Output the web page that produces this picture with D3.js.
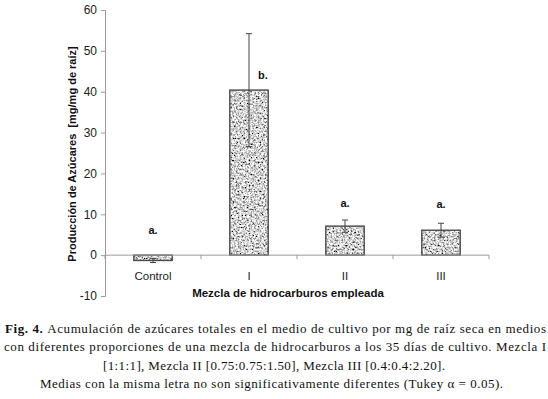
<!DOCTYPE html>
<html>
<head>
<meta charset="utf-8">
<script src="https://cdn.jsdelivr.net/npm/d3@7"></script>
<style>
  body { margin: 0; background: #fff; }
  svg { display: block; }
</style>
</head>
<body>
<div id="chart"></div>
<script>
const width = 548,
    height = 399,
    margin = { top: 10, left: 105, right: 59, bottom: 103 };

// data
const categories = ["Control", "I", "II", "III"];
const means = [-1.3, 40.4, 7.1, 6.1];
const errors = [0.5, 13.8, 1.5, 1.7];
const letters = ["a.", "b.", "a.", "a."];
const letterAt = [5.2, 43.2, 11.7, 11.5];
const yTicks = [-10, 0, 10, 20, 30, 40, 50, 60];

const captionLines = [
    "Acumulación de azúcares totales en el medio de cultivo por mg de raíz seca en medios",
    "con diferentes proporciones de una mezcla de hidrocarburos a los 35 días de cultivo. Mezcla I",
    "[1:1:1], Mezcla II [0.75:0.75:1.50], Mezcla III [0.4:0.4:2.20].",
    "Medias con la misma letra no son significativamente diferentes (Tukey α = 0.05)."
];

const svg = d3.select("#chart")
    .append("svg")
    .attr("width", width)
    .attr("height", height);

// speckled grey texture for the bars
const defs = svg.append("defs");
const filt = defs.append("filter")
    .attr("id", "speckle")
    .attr("x", 0).attr("y", 0).attr("width", 1).attr("height", 1);
filt.append("feTurbulence")
    .attr("type", "fractalNoise")
    .attr("baseFrequency", 0.55)
    .attr("numOctaves", 2)
    .attr("seed", 7)
    .attr("result", "noise");
filt.append("feColorMatrix")
    .attr("in", "noise")
    .attr("type", "matrix")
    .attr("values", "2.4 0 0 0 -0.55  2.4 0 0 0 -0.55  2.4 0 0 0 -0.55  0 0 0 0 1")
    .attr("result", "grey");
filt.append("feComposite")
    .attr("in", "grey")
    .attr("in2", "SourceGraphic")
    .attr("operator", "in");

const x = d3.scaleBand()
    .domain(categories)
    .range([margin.left, width - margin.right])
    .paddingInner(0.6)
    .paddingOuter(0.3);

const y = d3.scaleLinear()
    .domain([-10, 60])
    .range([296, margin.top]);

// y axis
const yAxis = d3.axisLeft(y).tickValues(yTicks).tickSize(4).tickPadding(4)
    .tickFormat(d => String(d));
const yG = svg.append("g")
    .attr("transform", `translate(${margin.left},0)`)
    .call(yAxis);
yG.select(".domain").attr("stroke", "#9a9a9a");
yG.selectAll(".tick line").attr("stroke", "#9a9a9a");
yG.selectAll(".tick text")
    .attr("font-family", "Liberation Sans, Arial, sans-serif")
    .attr("font-size", 12)
    .attr("fill", "#222");

// bars
svg.append("g").selectAll("rect.fillbar")
    .data(categories)
    .join("rect")
    .attr("class", "fillbar")
    .attr("x", d => x(d))
    .attr("width", x.bandwidth())
    .attr("y", (d, i) => y(Math.max(0, means[i])))
    .attr("height", (d, i) => Math.abs(y(means[i]) - y(0)))
    .attr("fill", "#000")
    .attr("filter", "url(#speckle)");

svg.append("g").selectAll("rect.edge")
    .data(categories)
    .join("rect")
    .attr("class", "edge")
    .attr("x", d => x(d))
    .attr("width", x.bandwidth())
    .attr("y", (d, i) => y(Math.max(0, means[i])))
    .attr("height", (d, i) => Math.abs(y(means[i]) - y(0)))
    .attr("fill", "none")
    .attr("stroke", "#4a4a4a")
    .attr("stroke-width", 1.4);

// x axis sitting at zero
const xAxis = d3.axisBottom(x).tickSize(0).tickPadding(17);
const xG = svg.append("g")
    .attr("transform", `translate(0,${y(0)})`)
    .call(xAxis);
xG.select(".domain").attr("stroke", "#9a9a9a").attr("d", `M${margin.left},0H${width - margin.right}`);
xG.selectAll(".tick text")
    .attr("font-family", "Liberation Sans, Arial, sans-serif")
    .attr("font-size", 11.5)
    .attr("fill", "#222");

// separators between categories
const span = (x.range()[1] - x.range()[0]) / categories.length;
xG.selectAll("line.sep")
    .data(d3.range(categories.length + 1))
    .join("line")
    .attr("class", "sep")
    .attr("x1", i => margin.left + i * span)
    .attr("x2", i => margin.left + i * span)
    .attr("y1", 0)
    .attr("y2", 4)
    .attr("stroke", "#9a9a9a");

// error bars
const eb = svg.append("g").attr("stroke", "#444").attr("stroke-width", 1);
categories.forEach((c, i) => {
    const cx = x(c) + x.bandwidth() / 2;
    const top = y(means[i] + errors[i]), bot = y(means[i] - errors[i]);
    eb.append("line").attr("x1", cx).attr("x2", cx).attr("y1", top).attr("y2", bot);
    eb.append("line").attr("x1", cx - 3).attr("x2", cx + 3).attr("y1", top).attr("y2", top);
    eb.append("line").attr("x1", cx - 3).attr("x2", cx + 3).attr("y1", bot).attr("y2", bot);
});

// Tukey letters
svg.append("g").selectAll("text")
    .data(categories)
    .join("text")
    .attr("x", (d, i) => x(d) + x.bandwidth() / 2 + (i === 1 ? 14 : 0))
    .attr("y", (d, i) => y(letterAt[i]))
    .attr("text-anchor", "middle")
    .attr("font-family", "Liberation Sans, Arial, sans-serif")
    .attr("font-weight", "bold")
    .attr("font-size", 11)
    .attr("fill", "#111")
    .text((d, i) => letters[i]);

// axis titles
svg.append("text")
    .attr("transform", `translate(76,154)rotate(-90)`)
    .attr("text-anchor", "middle")
    .attr("font-family", "Liberation Sans, Arial, sans-serif")
    .attr("font-weight", "bold")
    .attr("font-size", 11)
    .attr("fill", "#111")
    .attr("xml:space", "preserve")
    .text("Producción de Azúcares  [mg/mg de raíz]");

svg.append("text")
    .attr("x", 288)
    .attr("y", 297)
    .attr("text-anchor", "middle")
    .attr("font-family", "Liberation Sans, Arial, sans-serif")
    .attr("font-weight", "bold")
    .attr("font-size", 11.5)
    .attr("fill", "#111")
    .text("Mezcla de hidrocarburos empleada");

// caption
const cap = svg.append("g")
    .attr("font-family", "Liberation Serif, Times New Roman, serif")
    .attr("font-size", 13)
    .attr("fill", "#111");

const l1 = cap.append("text").attr("x", 5).attr("y", 333)
    .attr("textLength", 541).attr("lengthAdjust", "spacing");
l1.append("tspan").attr("font-weight", "bold").text("Fig. 4. ");
l1.append("tspan").text(captionLines[0]);

cap.append("text").attr("x", 4).attr("y", 351)
    .attr("textLength", 542).attr("lengthAdjust", "spacing")
    .text(captionLines[1]);

cap.append("text").attr("x", 103).attr("y", 370)
    .attr("textLength", 342).attr("lengthAdjust", "spacing")
    .text(captionLines[2]);

cap.append("text").attr("x", 40).attr("y", 388)
    .attr("textLength", 463).attr("lengthAdjust", "spacing")
    .text(captionLines[3]);
</script>
</body>
</html>
